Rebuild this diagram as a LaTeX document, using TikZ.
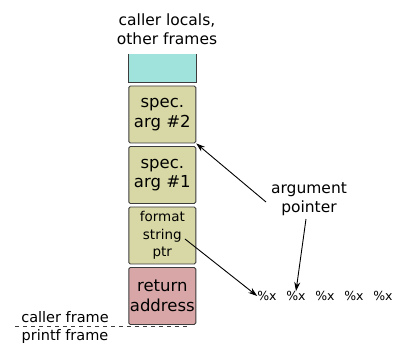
\documentclass[tikz,border=0pt]{standalone}
\usepackage{fontspec}
\setmainfont{DejaVu Sans}
\usetikzlibrary{arrows.meta}
\definecolor{cyanbox}{RGB}{160,226,220}
\definecolor{khaki}{RGB}{216,216,166}
\definecolor{pinkbox}{RGB}{216,166,166}
\definecolor{edge}{RGB}{60,60,60}
\begin{document}
\begin{tikzpicture}[x=1pt,y=1pt,
  cell/.style={draw=edge,line width=0.9pt,rounded corners=1.5pt,minimum width=67pt,minimum height=57pt,inner sep=0pt,align=center,font=\fontsize{16.5}{19.5}\selectfont},
  lbl/.style={align=center,inner sep=0pt,font=\fontsize{15.5}{19}\selectfont},
  fx/.style={inner sep=0pt,font=\fontsize{12.5}{14}\selectfont},
  arr/.style={-{Stealth[length=9pt,width=6pt]},line width=0.9pt}]
\useasboundingbox (0,0) rectangle (399,345);
% top cyan box (no top border)
\fill[cyanbox] (128.5,291) rectangle (196,262.5);
\draw[edge,line width=0.9pt] (128.5,291) -- (128.5,262.5) -- (196,262.5) -- (196,291);
\node[lbl] (top) at (167,316) {caller locals,\\other frames};
\node[cell,fill=khaki] (a2) at (162.3,230.5) {spec.\\arg \#2};
\node[cell,fill=khaki] (a1) at (162.3,170) {spec.\\arg \#1};
\node[cell,fill=khaki,font=\fontsize{13.5}{17.5}\selectfont] (fmt) at (162.3,109.5) {format\\string\\ptr};
\node[cell,fill=pinkbox] (ret) at (162.3,49) {return\\address};
\coordinate (strend) at (185,106);
\node[lbl] (ap) at (309,146) {argument\\pointer};
\coordinate (apw) at (266,143);
\coordinate (aps) at (306,126);
\node[fx] (x1) at (267,49) {\%x};
\node[fx] (x2) at (296,49) {\%x};
\node[fx] (x3) at (325,49) {\%x};
\node[fx] (x4) at (354,49) {\%x};
\node[fx] (x5) at (383,49) {\%x};
\draw[arr] (apw) -- (a2.south east);
\draw[arr] (aps) -- (x2.north);
\draw[arr] (strend) -- (x1.west);
\draw[edge,line width=0.8pt,dash pattern=on 4pt off 4pt] (15,19) -- (190,19);
\node[lbl,font=\fontsize{14.5}{17}\selectfont] (cf) at (65,28) {caller frame};
\node[lbl,font=\fontsize{14.5}{17}\selectfont] (pf) at (65,8) {printf frame};
\end{tikzpicture}
\end{document}
